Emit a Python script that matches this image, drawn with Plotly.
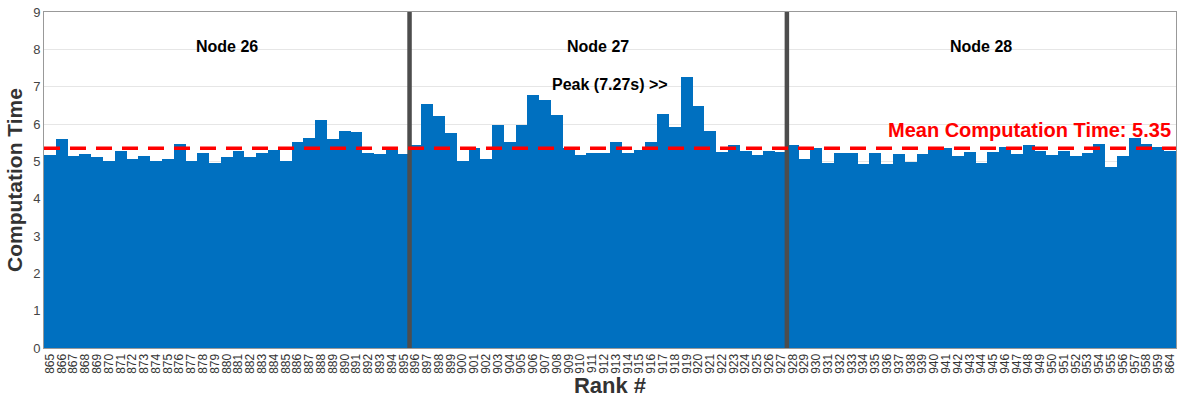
import plotly.graph_objects as go

# ranks per node, in plotted order
node26_ranks = [str(r) for r in range(865, 896)]
node27_ranks = [str(r) for r in range(896, 928)]
node28_ranks = [str(r) for r in range(928, 960)] + ["864"]

node26_times = [5.18, 5.61, 5.13, 5.19, 5.11, 5.02, 5.29, 5.06, 5.13, 5.02,
                5.06, 5.47, 5.02, 5.23, 4.96, 5.11, 5.29, 5.12, 5.23, 5.30,
                5.02, 5.52, 5.63, 6.10, 5.61, 5.80, 5.78, 5.21, 5.19, 5.38,
                5.19]
node27_times = [5.45, 6.54, 6.21, 5.76, 5.01, 5.35, 5.06, 5.96, 5.52, 5.98,
                6.79, 6.63, 6.25, 5.36, 5.16, 5.23, 5.23, 5.53, 5.22, 5.31,
                5.53, 6.28, 5.91, 7.27, 6.47, 5.80, 5.25, 5.45, 5.28, 5.17,
                5.29, 5.26]
node28_times = [5.44, 5.07, 5.37, 4.96, 5.21, 5.21, 4.92, 5.21, 4.93, 5.20,
                4.98, 5.19, 5.36, 5.36, 5.14, 5.24, 4.95, 5.26, 5.38, 5.20,
                5.43, 5.27, 5.18, 5.27, 5.13, 5.23, 5.46, 4.85, 5.14, 5.62,
                5.47, 5.38, 5.28]

node_names = ["Node 26", "Node 27", "Node 28"]
mean_time = 5.35
peak_time = 7.27

ranks = node26_ranks + node27_ranks + node28_ranks
times = node26_times + node27_times + node28_times

font = "Arial, Liberation Sans, sans-serif"

fig = go.Figure()
fig.add_trace(go.Bar(
    x=ranks, y=times,
    marker=dict(color="#0070C0", line=dict(width=0)),
    showlegend=False,
))

# node separators
sizes = [len(node26_ranks), len(node27_ranks), len(node28_ranks)]
edge = -0.5
centers = []
for i, n in enumerate(sizes):
    centers.append(edge + n / 2)
    edge += n
    if i < len(sizes) - 1:
        fig.add_shape(type="line", xref="x", yref="y", x0=edge, x1=edge, y0=0, y1=9,
                      line=dict(color="#4D4D4D", width=4.5))

for name, c in zip(node_names, centers):
    fig.add_annotation(x=c, y=8.07, xref="x", yref="y", text="<b>%s</b>" % name,
                       showarrow=False, font=dict(family=font, size=16, color="black"))

peak_idx = times.index(peak_time)
fig.add_annotation(x=peak_idx - 6.5, y=7.07, xref="x", yref="y",
                   text="<b>Peak (%.2fs) >></b>" % peak_time,
                   showarrow=False, font=dict(family=font, size=16, color="black"))

fig.add_shape(type="line", xref="paper", yref="y", x0=0, x1=1, y0=mean_time, y1=mean_time,
              line=dict(color="red", width=3.5, dash="16px,10px"))
fig.add_annotation(x=0.744, y=mean_time, xref="paper", yref="y", xanchor="left", yanchor="bottom",
                   yshift=5,
                   text="<b>Mean Computation Time: %.2f</b>" % mean_time,
                   showarrow=False, font=dict(family=font, size=20, color="red"))

fig.update_layout(
    width=1178, height=398,
    margin=dict(l=44, r=2, t=12, b=50),
    plot_bgcolor="white", paper_bgcolor="white",
    bargap=0,
    font=dict(family=font, color="#333333"),
    xaxis=dict(type="category", tickangle=-90, tickfont=dict(size=12), dtick=1,
               automargin=False,
               showline=True, linecolor="#999999", mirror=True, ticks="",
               title=dict(text="<b>Rank #</b>", font=dict(size=22, color="#333333"), standoff=2)),
    yaxis=dict(range=[0, 9], dtick=1, tickfont=dict(size=13, color="#444444"),
               automargin=False, ticklabeloverflow="allow",
               showgrid=True, gridcolor="#E6E6E6", zeroline=False,
               showline=True, linecolor="#999999", mirror=True, ticks="",
               title=dict(text="<b>Computation Time</b>", font=dict(size=21, color="#333333"), standoff=4)),
)

# drop the default page margin so the figure fills the window exactly
fig.write_html("out.html", config={"displayModeBar": False},
               post_script="document.body.style.margin='0';document.body.style.overflow='hidden';")
